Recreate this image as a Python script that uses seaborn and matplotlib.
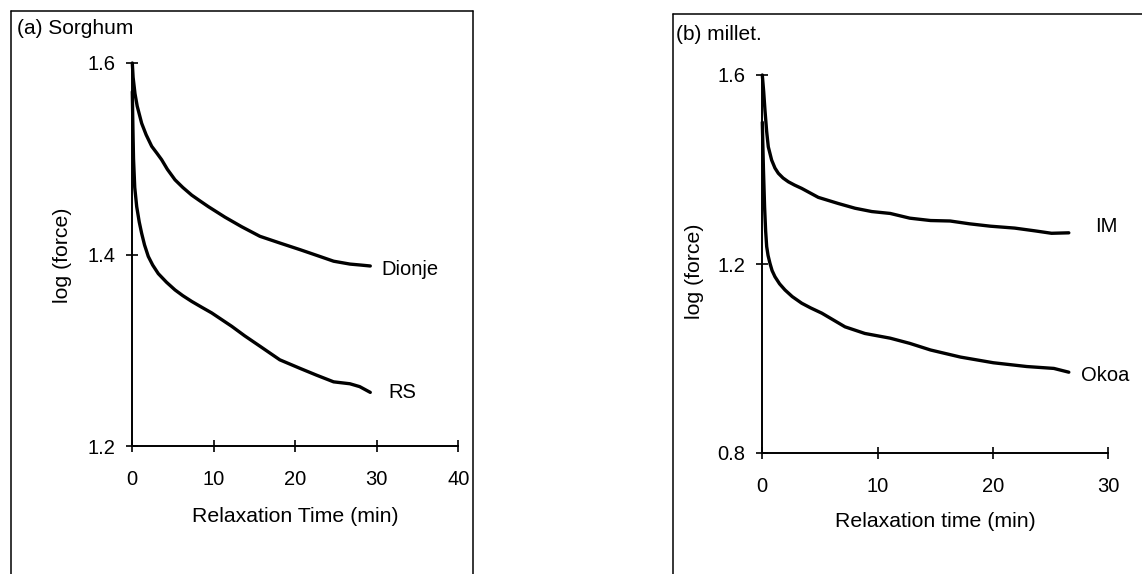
import matplotlib
matplotlib.use("Agg")
import matplotlib.pyplot as plt
import seaborn as sns
from matplotlib.lines import Line2D

# ---------------- data ----------------
# Panel (a) Sorghum
dionje_t = [0, 0.1, 0.33, 0.6, 1.15, 1.7, 2.38, 3.0, 3.6, 4.3, 5.24, 6.2, 7.29, 8.3, 9.33, 11.37, 13.42, 15.66, 18.1, 20.6, 23.0, 24.7, 26.7, 28.0, 29.2]
dionje_v = [1.6, 1.585, 1.568, 1.555, 1.537, 1.525, 1.513, 1.506, 1.499, 1.489, 1.478, 1.470, 1.462, 1.456, 1.450, 1.439, 1.429, 1.419, 1.412, 1.405, 1.398, 1.393, 1.390, 1.389, 1.388]
rs_t = [0, 0.08, 0.15, 0.3, 0.54, 0.85, 1.15, 1.5, 1.96, 2.5, 3.19, 4.2, 5.24, 6.2, 7.29, 8.5, 9.74, 12.2, 13.8, 15.7, 18.1, 20.6, 22.6, 24.7, 26.7, 27.9, 29.2]
rs_v = [1.57, 1.53, 1.50, 1.47, 1.450, 1.434, 1.422, 1.410, 1.398, 1.389, 1.380, 1.371, 1.363, 1.357, 1.351, 1.345, 1.339, 1.325, 1.315, 1.304, 1.290, 1.281, 1.274, 1.267, 1.265, 1.262, 1.256]

# Panel (b) millet
im_t = [0, 0.12, 0.23, 0.38, 0.52, 0.81, 1.1, 1.39, 1.8, 2.26, 2.8, 3.42, 4.86, 6.6, 8.05, 9.5, 11.1, 12.8, 14.6, 16.3, 18.0, 19.8, 21.9, 23.7, 25.1, 26.6]
im_v = [1.6, 1.565, 1.526, 1.480, 1.448, 1.420, 1.403, 1.392, 1.382, 1.374, 1.367, 1.360, 1.341, 1.328, 1.318, 1.311, 1.307, 1.297, 1.292, 1.291, 1.285, 1.280, 1.276, 1.270, 1.265, 1.266]
okoa_t = [0, 0.1, 0.2, 0.29, 0.38, 0.5, 0.67, 0.85, 1.1, 1.5, 1.97, 2.6, 3.42, 4.2, 5.16, 7.18, 8.9, 11.1, 12.8, 14.6, 17.2, 20.05, 22.95, 25.3, 26.6]
okoa_v = [1.50, 1.40, 1.32, 1.27, 1.237, 1.218, 1.201, 1.186, 1.173, 1.158, 1.145, 1.131, 1.117, 1.107, 1.096, 1.067, 1.053, 1.043, 1.032, 1.018, 1.003, 0.991, 0.983, 0.979, 0.971]

sorghum_xticks = [0, 10, 20, 30, 40]
sorghum_yticks = [1.2, 1.4, 1.6]
millet_xticks = [0, 10, 20, 30]
millet_yticks = [0.8, 1.2, 1.6]

titles = ["(a) Sorghum", "(b) millet."]
xlabels = ["Relaxation Time (min)", "Relaxation time (min)"]
ylabel = "log (force)"

# ---------------- styling ----------------
sns.set_style("ticks")
plt.rcParams['font.family'] = ['Liberation Sans', 'DejaVu Sans']
plt.rcParams['text.color'] = 'black'
plt.rcParams['axes.labelcolor'] = 'black'

W, H = 1142, 574
fig = plt.figure(figsize=(W / 100, H / 100), dpi=100)
fig.patch.set_facecolor("white")

axA = fig.add_axes([132.3 / W, 1 - 446 / H, 326 / W, 383 / H])
axB = fig.add_axes([762.3 / W, 1 - 453 / H, 345.7 / W, 378 / H])


def style(ax, xt, yt, xl, xlab_pos, ylab_pos):
    ax.set_xlim(xt[0], xt[-1])
    ax.set_ylim(yt[0], yt[-1])
    ax.set_xticks(xt)
    ax.set_yticks(yt)
    ax.set_yticklabels([f"{v:.1f}" for v in yt])
    ax.set_xticklabels([str(v) for v in xt])
    sns.despine(ax=ax)
    for s in ["left", "bottom"]:
        ax.spines[s].set_linewidth(1.4)
        ax.spines[s].set_color("black")
    ax.tick_params(direction="inout", length=8, width=1.2, colors="black", labelsize=14.5)
    ax.tick_params(axis="x", pad=13)
    ax.tick_params(axis="y", pad=8)
    ax.set_xlabel(xl, fontsize=15.3, va="center")
    ax.set_ylabel(ylabel, fontsize=15.3, va="center")
    ax.xaxis.set_label_coords(*xlab_pos)
    ax.yaxis.set_label_coords(*ylab_pos)
    ax.set_facecolor("white")


lw = 2.4
sns.lineplot(x=dionje_t, y=dionje_v, ax=axA, color="black", linewidth=lw, estimator=None, clip_on=False)
sns.lineplot(x=rs_t, y=rs_v, ax=axA, color="black", linewidth=lw, estimator=None, clip_on=False)
sns.lineplot(x=im_t, y=im_v, ax=axB, color="black", linewidth=lw, estimator=None, clip_on=False)
sns.lineplot(x=okoa_t, y=okoa_v, ax=axB, color="black", linewidth=lw, estimator=None, clip_on=False)

style(axA, sorghum_xticks, sorghum_yticks, xlabels[0], (0.5006, -0.185), (-0.2126, 0.497))
style(axB, millet_xticks, millet_yticks, xlabels[1], (0.502, -0.18), (-0.1947, 0.482))

axA.text(30.6, 1.384, "Dionje", ha="left", va="center", fontsize=14.5)
axA.text(31.4, 1.256, "RS", ha="left", va="center", fontsize=14.5)
axB.text(28.9, 1.279, "IM", ha="left", va="center", fontsize=14.5)
axB.text(27.7, 0.964, "Okoa", ha="left", va="center", fontsize=14.5)

fig.text(17 / W, 1 - 28 / H, titles[0], ha="left", va="center", fontsize=15)
fig.text(676 / W, 1 - 34 / H, titles[1], ha="left", va="center", fontsize=15)

# panel frames (open at the bottom / right edge of the page)
def fline(x0, y0, x1, y1):
    fig.add_artist(Line2D([x0 / W, x1 / W], [1 - y0 / H, 1 - y1 / H],
                          transform=fig.transFigure, color="black", linewidth=1.1))

fline(11, 11, 11, 580)
fline(11, 11, 473, 11)
fline(473, 11, 473, 580)
fline(673, 14, 673, 580)
fline(673, 14, 1150, 14)

fig.savefig("out.png", dpi=100)
